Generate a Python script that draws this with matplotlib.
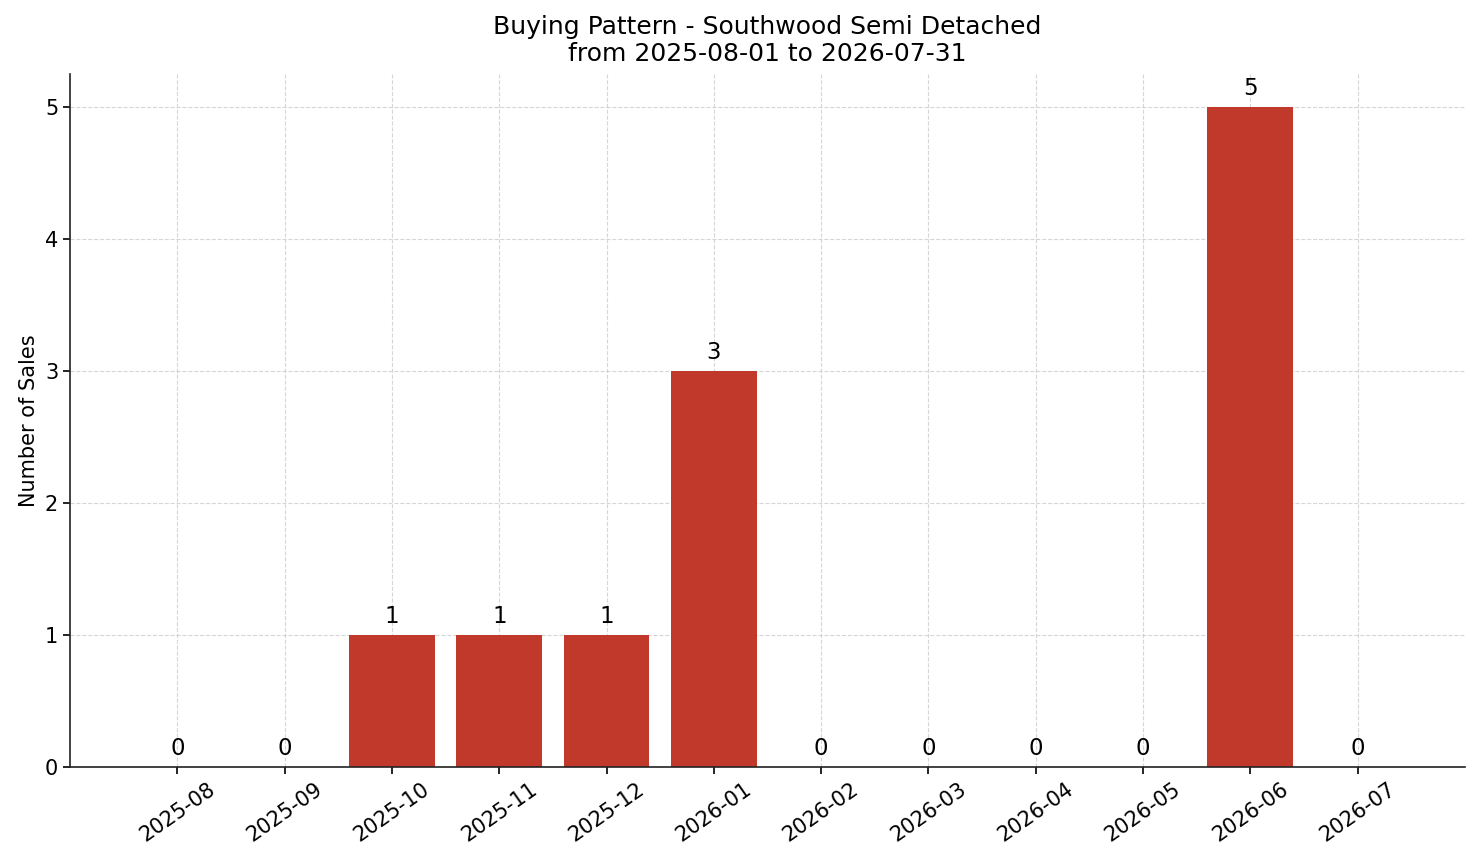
import matplotlib
matplotlib.use('Agg')
import matplotlib.pyplot as plt

# monthly sales counts
months = ['2025-08', '2025-09', '2025-10', '2025-11', '2025-12', '2026-01',
          '2026-02', '2026-03', '2026-04', '2026-05', '2026-06', '2026-07']
sales = [0, 0, 1, 1, 1, 3, 0, 0, 0, 0, 5, 0]

title = 'Buying Pattern - Southwood Semi Detached\nfrom 2025-08-01 to 2026-07-31'

fig = plt.figure(figsize=(14.81, 8.63), dpi=100)
ax = fig.add_axes([0.0473, 0.1112, 0.9419, 0.8031])

x = list(range(len(months)))
ax.bar(x, sales, width=0.8, color='#c0392b', zorder=2)

for i, v in zip(x, sales):
    ax.text(i, v + 0.05, str(v), ha='center', va='bottom', fontsize=16.5)

ax.set_xticks(x)
ax.set_xticklabels(months, rotation=35, ha='center', fontsize=15)
ax.tick_params(axis='y', labelsize=15)
ax.tick_params(width=1.2, length=5)
ax.set_xlim(-1, 12)
ax.set_ylim(0, 5.25)
ax.set_yticks([0, 1, 2, 3, 4, 5])

ax.set_ylabel('Number of Sales', fontsize=15)
ax.set_title(title, fontsize=18, pad=9)

ax.grid(True, linestyle='--', color='#cccccc', linewidth=0.8, alpha=0.8, zorder=0)
ax.set_axisbelow(True)
for s in ['top', 'right']:
    ax.spines[s].set_visible(False)
for s in ['left', 'bottom']:
    ax.spines[s].set_linewidth(1.2)
    ax.spines[s].set_color('#222222')

fig.savefig('out.png', dpi=100)
